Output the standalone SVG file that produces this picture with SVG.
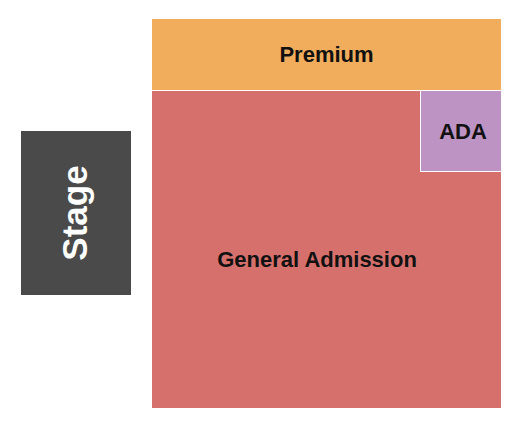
<svg xmlns="http://www.w3.org/2000/svg" width="525" height="430" viewBox="0 0 525 430">
<style>
.lbl{font-family:"Liberation Sans",Arial,sans-serif;font-weight:bold;font-size:22px;text-anchor:middle;dominant-baseline:central;fill:#111}
</style>
<rect width="525" height="430" fill="#fff"/>
<g id="premium"><rect x="152" y="19" width="349" height="71" fill="#F2AD5C"/><text class="lbl" x="326.5" y="54">Premium</text></g>
<g id="general-admission"><rect x="152" y="91" width="349" height="317" fill="#D6706C"/><text class="lbl" x="317" y="259">General Admission</text></g>
<g id="ada"><rect x="420.5" y="90.5" width="81" height="81" fill="#BC93C2" stroke="#fff" stroke-width="1"/><text class="lbl" x="463" y="131">ADA</text></g>
<g id="stage"><rect x="21" y="131" width="110" height="164" fill="#4A4A4A"/><text class="lbl" x="0" y="0" transform="translate(74 213) rotate(-90)" style="fill:#fff;font-size:35px">Stage</text></g>
<g id="connectors"></g>
</svg>
